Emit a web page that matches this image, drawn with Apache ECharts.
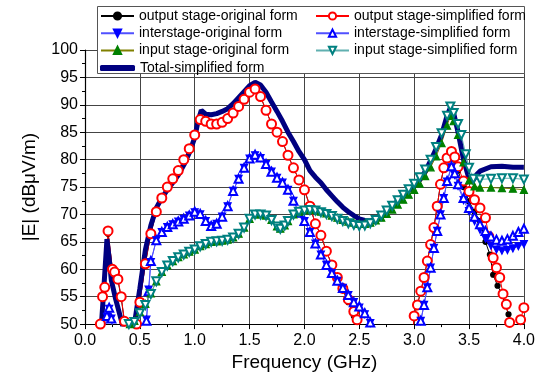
<!DOCTYPE html>
<html>
<head>
<meta charset="utf-8">
<script src="https://cdn.jsdelivr.net/npm/echarts@6/dist/echarts.min.js"></script>
<style>
  html, body { margin: 0; padding: 0; background: #fff; }
  #chart { width: 538px; height: 377px; }
</style>
</head>
<body>
<div id="chart"></div>
<script>
// [GHz, dBuV/m]
const outputOriginal = [
  [0.12, 46], [0.14, 50], [0.16, 55], [0.18, 56.5], [0.21, 66.5], [0.25, 60], [0.27, 59.3], [0.3, 58],
  [0.33, 54.8], [0.36, 50.3], [0.38, 46], [0.44, 46], [0.47, 50], [0.5, 54], [0.55, 61], [0.6, 66.5],
  [0.65, 70.5], [0.7, 73], [0.75, 75], [0.8, 76.5], [0.85, 78], [0.9, 80], [0.95, 82], [1.0, 84.5],
  [1.05, 87.3], [1.1, 87], [1.15, 86.5], [1.2, 86.5], [1.25, 86.8], [1.3, 87.5], [1.35, 88.5], [1.4, 89.7],
  [1.45, 91], [1.5, 92.3], [1.55, 92.9], [1.6, 91.5], [1.65, 89], [1.7, 86.5], [1.75, 85], [1.8, 83.3],
  [1.85, 80.8], [1.9, 78.5], [1.95, 76.3], [2.0, 74.5], [2.05, 71.5], [2.1, 68.3], [2.15, 66.2], [2.2, 63.3],
  [2.25, 60.8], [2.3, 58.3], [2.35, 56.2], [2.4, 54], [2.45, 51.5], [2.48, 49.5], [2.55, 45], [2.9, 45],
  [2.99, 49], [3.0, 51.5], [3.03, 53.5], [3.06, 56], [3.09, 58.5], [3.12, 61.5], [3.15, 64.5], [3.18, 67.6],
  [3.21, 71.5], [3.24, 75.5], [3.27, 78.5], [3.3, 80.3], [3.34, 81.3], [3.37, 80], [3.4, 78], [3.45, 75],
  [3.5, 72.4], [3.55, 70.5], [3.6, 68.8], [3.65, 65], [3.69, 62.7], [3.72, 59], [3.76, 57], [3.8, 55.5],
  [3.83, 53.5], [3.86, 51.8], [3.88, 50.2], [3.92, 47]
];
const outputSimplified = [
  [0.12, 46], [0.14, 50], [0.16, 55], [0.18, 56.7], [0.21, 67], [0.25, 60], [0.27, 59.5], [0.3, 58.2],
  [0.33, 55], [0.36, 50.5], [0.38, 46], [0.44, 46], [0.47, 50], [0.5, 54], [0.55, 61], [0.6, 66.5],
  [0.65, 70.5], [0.7, 73], [0.75, 75], [0.8, 76.5], [0.85, 78], [0.9, 80], [0.95, 82], [1.0, 84.5],
  [1.05, 87.3], [1.1, 87], [1.15, 86.5], [1.2, 86.5], [1.25, 86.8], [1.3, 87.5], [1.35, 88.5], [1.4, 89.7],
  [1.45, 91], [1.5, 92.3], [1.55, 92.9], [1.6, 91.5], [1.65, 89], [1.7, 86.5], [1.75, 85], [1.8, 83.3],
  [1.85, 80.8], [1.9, 78.5], [1.95, 76.3], [2.0, 74.5], [2.05, 71.5], [2.1, 68.3], [2.15, 66.2], [2.2, 63.3],
  [2.25, 60.8], [2.3, 58.5], [2.35, 56.5], [2.4, 54.5], [2.45, 52.3], [2.48, 50.8], [2.52, 49], [2.6, 45],
  [2.9, 45], [2.99, 49], [3.0, 51.5], [3.03, 53.5], [3.06, 56], [3.09, 58.5], [3.12, 61.5], [3.15, 64.5],
  [3.18, 67.6], [3.21, 71.5], [3.24, 75.5], [3.27, 78.5], [3.3, 80.3], [3.34, 81.5], [3.37, 80.5], [3.4, 78.7],
  [3.45, 76.1], [3.5, 74.2], [3.55, 72.7], [3.6, 71.2], [3.65, 69.4], [3.68, 66], [3.72, 62.1], [3.75, 60.3],
  [3.78, 58.5], [3.81, 55.5], [3.84, 53.6], [3.87, 50.3], [3.9, 48], [3.94, 48.5], [3.97, 50.8], [4.0, 53]
];
const interOriginal = [
  [0.17, 48], [0.2, 51.3], [0.22, 52.8], [0.24, 51], [0.26, 48], [0.53, 48], [0.56, 50.8], [0.58, 56.3],
  [0.6, 61.3], [0.65, 65.3], [0.7, 66.8], [0.75, 67.7], [0.8, 68.2], [0.85, 68.7], [0.9, 69.2], [0.95, 69.8],
  [1.0, 70.4], [1.05, 70], [1.1, 68.8], [1.15, 67.9], [1.2, 68.3], [1.25, 69.6], [1.3, 71.5], [1.35, 74.3],
  [1.4, 76.5], [1.45, 78.5], [1.5, 80.2], [1.55, 80.8], [1.6, 80.3], [1.65, 79.2], [1.7, 77.8], [1.75, 76.7],
  [1.8, 75.8], [1.85, 74.5], [1.9, 72.5], [1.95, 70.3], [2.0, 68.8], [2.05, 66.8], [2.1, 64.7], [2.15, 62.7],
  [2.2, 60.8], [2.25, 59.3], [2.3, 57.9], [2.35, 56.6], [2.4, 55.3], [2.45, 54], [2.5, 53], [2.55, 51.8],
  [2.6, 50.2], [2.63, 49], [2.7, 45], [2.95, 45], [3.05, 49], [3.06, 50.6], [3.09, 53.5], [3.12, 56.7],
  [3.15, 60.3], [3.18, 63.9], [3.21, 67], [3.24, 70], [3.27, 73], [3.3, 76], [3.34, 78.6], [3.37, 77.2],
  [3.4, 75.2], [3.45, 72.6], [3.5, 70.6], [3.55, 68.8], [3.6, 67.2], [3.65, 65.6], [3.7, 64.3], [3.75, 63.6],
  [3.8, 63.4], [3.85, 63.5], [3.9, 63.8], [3.95, 64.2], [4.0, 64.6]
];
const interSimplified = [
  [0.17, 48], [0.2, 51.5], [0.22, 53], [0.24, 51], [0.26, 48], [0.53, 48], [0.56, 50.6], [0.58, 56],
  [0.6, 61.5], [0.65, 65.3], [0.7, 66.8], [0.75, 67.7], [0.8, 68.2], [0.85, 68.7], [0.9, 69.2], [0.95, 69.8],
  [1.0, 70.5], [1.05, 70.1], [1.1, 68.8], [1.15, 67.9], [1.2, 68.3], [1.25, 69.6], [1.3, 71.5], [1.35, 74.3],
  [1.4, 76.5], [1.45, 78.5], [1.5, 80.2], [1.55, 80.9], [1.6, 80.4], [1.65, 79.2], [1.7, 77.8], [1.75, 76.7],
  [1.8, 75.8], [1.85, 74.5], [1.9, 72.5], [1.95, 70.3], [2.0, 68.8], [2.05, 66.8], [2.1, 64.7], [2.15, 62.7],
  [2.2, 60.8], [2.25, 59.3], [2.3, 57.9], [2.35, 56.6], [2.4, 55.3], [2.45, 54], [2.5, 53.2], [2.55, 52],
  [2.6, 50.3], [2.63, 49], [2.7, 45], [2.95, 45], [3.05, 49], [3.06, 50.6], [3.09, 53.5], [3.12, 56.7],
  [3.15, 60.3], [3.18, 63.9], [3.21, 67], [3.24, 70], [3.27, 73], [3.3, 76.1], [3.34, 78.8], [3.37, 77.5],
  [3.4, 75.5], [3.45, 73], [3.5, 71.2], [3.55, 69.6], [3.6, 68.2], [3.65, 67], [3.7, 66], [3.75, 65.4],
  [3.8, 65.2], [3.85, 65.5], [3.9, 66.1], [3.95, 66.8], [4.0, 67.4]
];
const inputOriginal = [
  [0.38, 46], [0.41, 50], [0.45, 50.6], [0.5, 52.2], [0.55, 53.7], [0.6, 55.6], [0.65, 57.8], [0.7, 59.5],
  [0.75, 60.7], [0.8, 61.5], [0.85, 62.2], [0.9, 62.7], [0.95, 63.2], [1.0, 63.6], [1.05, 64.2], [1.1, 64.6],
  [1.15, 65], [1.2, 65.1], [1.25, 65.2], [1.3, 65.4], [1.35, 65.8], [1.4, 66.5], [1.45, 67.6], [1.5, 69.2],
  [1.55, 70], [1.6, 70], [1.65, 69.8], [1.7, 69], [1.75, 67.8], [1.78, 67.4], [1.82, 68], [1.85, 68.8],
  [1.9, 70], [1.95, 70.5], [2.0, 70.8], [2.05, 70.9], [2.1, 70.8], [2.15, 70.5], [2.2, 70.2], [2.25, 69.8],
  [2.3, 69.4], [2.35, 69], [2.4, 68.7], [2.45, 68.5], [2.5, 68.3], [2.55, 68.3], [2.6, 68.5], [2.65, 68.9],
  [2.7, 69.4], [2.75, 70.1], [2.8, 70.9], [2.85, 71.8], [2.9, 72.7], [2.95, 73.6], [3.0, 74.5], [3.05, 75.6],
  [3.1, 77], [3.15, 78.6], [3.2, 80.6], [3.25, 83], [3.3, 86.2], [3.33, 88], [3.36, 87], [3.4, 84.5],
  [3.45, 79.5], [3.5, 76.2], [3.55, 75.1], [3.6, 74.9], [3.7, 74.9], [3.8, 74.8], [3.9, 74.7], [4.0, 74.5]
];
const inputSimplified = [
  [0.38, 46], [0.4, 50], [0.45, 50.4], [0.5, 52], [0.55, 53.5], [0.6, 55.5], [0.65, 57.8], [0.7, 59.5],
  [0.75, 60.7], [0.8, 61.5], [0.85, 62.2], [0.9, 62.7], [0.95, 63.2], [1.0, 63.6], [1.05, 64.2], [1.1, 64.6],
  [1.15, 65], [1.2, 65.1], [1.25, 65.2], [1.3, 65.4], [1.35, 65.8], [1.4, 66.5], [1.45, 67.6], [1.5, 69.2],
  [1.55, 70], [1.6, 70], [1.65, 69.8], [1.7, 69], [1.75, 67.8], [1.78, 67.4], [1.82, 68], [1.85, 68.8],
  [1.9, 70], [1.95, 70.5], [2.0, 70.7], [2.05, 70.8], [2.1, 70.7], [2.15, 70.4], [2.2, 70.1], [2.25, 69.7],
  [2.3, 69.2], [2.35, 68.8], [2.4, 68.4], [2.45, 68.1], [2.5, 67.9], [2.55, 68], [2.6, 68.4], [2.65, 69],
  [2.7, 69.8], [2.75, 70.7], [2.8, 71.6], [2.85, 72.6], [2.9, 73.6], [2.95, 74.6], [3.0, 75.6], [3.05, 76.8],
  [3.1, 78.2], [3.15, 80], [3.2, 82.3], [3.25, 84.8], [3.3, 88], [3.33, 89.7], [3.36, 88.5], [3.4, 86.5],
  [3.43, 84.5], [3.47, 81], [3.5, 78.5], [3.54, 76.5], [3.6, 76.4], [3.7, 76.5], [3.8, 76.6], [3.9, 76.6],
  [4.0, 76.4]
];
const totalSimplified = [
  [0.1, 44], [0.15, 50], [0.17, 56], [0.2, 65.5], [0.22, 62], [0.24, 58], [0.28, 54.5], [0.34, 50],
  [0.38, 46], [0.42, 46], [0.45, 50], [0.5, 56.5], [0.55, 63.5], [0.6, 68], [0.65, 71.2], [0.7, 73],
  [0.75, 74.5], [0.8, 75.8], [0.85, 77.2], [0.9, 79], [0.95, 81.2], [1.0, 84], [1.03, 87], [1.06, 89],
  [1.1, 88.3], [1.15, 88.2], [1.2, 88.4], [1.25, 88.8], [1.3, 89.3], [1.35, 90.2], [1.4, 91.3], [1.45, 92.4],
  [1.5, 93.5], [1.55, 94.1], [1.6, 93.6], [1.65, 92.3], [1.7, 90.5], [1.75, 88.8], [1.8, 87], [1.85, 85],
  [1.9, 83.3], [1.95, 81.5], [2.0, 80], [2.05, 78], [2.1, 76.8], [2.15, 75.8], [2.2, 74.5], [2.25, 73.4],
  [2.3, 72.3], [2.35, 71.3], [2.4, 70.5], [2.45, 69.8], [2.5, 69.2], [2.55, 68.9], [2.6, 68.8], [2.65, 69.2],
  [2.7, 69.8], [2.75, 70.6], [2.8, 71.5], [2.85, 72.5], [2.9, 73.5], [2.95, 74.4], [3.0, 75.2], [3.05, 76.3],
  [3.1, 77.8], [3.15, 79.8], [3.2, 82], [3.25, 84.5], [3.3, 88], [3.33, 89.5], [3.36, 88.5], [3.4, 85],
  [3.45, 80], [3.5, 76.5], [3.53, 76], [3.57, 77.3], [3.6, 77.9], [3.7, 78.7], [3.8, 78.8], [3.9, 78.6],
  [4.0, 78.6]
];

const seriesNames = [
  'output stage-original form', 'output stage-simplified form',
  'interstage-original form', 'interstage-simplified form',
  'input stage-original form', 'input stage-simplified form',
  'Total-simplified form'
];

const FONT = 'Liberation Sans, Arial, sans-serif';

function mk(name, data, lineColor, symColor, symbol, size, rotate) {
  return {
    name: name,
    type: 'line',
    data: data,
    symbol: symbol,
    symbolSize: size,
    symbolRotate: rotate || 0,
    showSymbol: true,
    clip: true,
    lineStyle: {color: lineColor, width: 1},
    itemStyle: {color: symColor, borderColor: symColor, borderWidth: 1.2},
    animation: false,
  };
}

const legendText = {fontSize: 14, color: '#000', lineHeight: 14, fontFamily: FONT};

const myChart = echarts.init(document.getElementById('chart'));
const option = {
  animation: false,
  textStyle: {fontFamily: FONT},
  grid: {left: 85, right: 13, top: 50, bottom: 52},
  xAxis: {
    type: 'value', min: 0, max: 4, interval: 0.5,
    name: 'Frequency (GHz)', nameLocation: 'middle', nameGap: 19,
    nameTextStyle: {fontSize: 19, color: '#000', fontFamily: FONT},
    axisLine: {lineStyle: {color: '#000', width: 1.2}},
    axisTick: {length: 5, lineStyle: {color: '#000'}},
    minorTick: {show: true, splitNumber: 2, length: 3, lineStyle: {color: '#000'}},
    axisLabel: {fontSize: 16, color: '#000', margin: 8, formatter: v => v.toFixed(1)},
    splitLine: {show: true, lineStyle: {color: '#444', width: 1}},
  },
  yAxis: {
    type: 'value', min: 50, max: 100, interval: 5,
    name: '|E| (dBμV/m)', nameLocation: 'middle', nameGap: 46,
    nameTextStyle: {fontSize: 19, color: '#000', fontFamily: FONT},
    axisLine: {show: true, lineStyle: {color: '#000', width: 1.2}},
    axisTick: {show: true, length: 5, lineStyle: {color: '#000'}},
    minorTick: {show: true, splitNumber: 2, length: 3, lineStyle: {color: '#000'}},
    axisLabel: {fontSize: 16, color: '#000', margin: 7},
    splitLine: {show: true, lineStyle: {color: '#444', width: 1}},
  },
  graphic: [{
    type: 'rect', z: 3,
    shape: {x: 97.5, y: 6.5, width: 427, height: 67},
    style: {fill: '#fff', stroke: '#555', lineWidth: 1}
  }],
  legend: [{
    orient: 'vertical', left: 95, top: 4, z: 5,
    itemWidth: 33, itemHeight: 9, itemGap: 3.2,
    textStyle: legendText,
    data: [seriesNames[0], seriesNames[2], seriesNames[4]]
  }, {
    orient: 'vertical', left: 310, top: 4, z: 5,
    itemWidth: 33, itemHeight: 9, itemGap: 3.2,
    textStyle: legendText,
    data: [seriesNames[1], seriesNames[3], seriesNames[5]]
  }, {
    orient: 'vertical', left: 95, top: 56, z: 5,
    itemWidth: 35, itemHeight: 6, itemGap: 3,
    textStyle: legendText,
    data: [{name: seriesNames[6], icon: 'roundRect'}]
  }],
  series: [
    mk(seriesNames[0], outputOriginal, '#000', '#000', 'circle', 5),
    mk(seriesNames[1], outputSimplified, '#ff0000', '#ff0000', 'emptyCircle', 9),
    mk(seriesNames[2], interOriginal, '#5050ff', '#0000ff', 'triangle', 7, 180),
    mk(seriesNames[3], interSimplified, '#5050ff', '#0000ff', 'emptyTriangle', 8),
    mk(seriesNames[4], inputOriginal, '#808000', '#008000', 'triangle', 7),
    mk(seriesNames[5], inputSimplified, '#60b0b0', '#008080', 'emptyTriangle', 8, 180),
    {
      name: seriesNames[6], type: 'line', data: totalSimplified,
      symbol: 'none', clip: true, animation: false,
      lineStyle: {color: '#000080', width: 5},
      itemStyle: {color: '#000080'}
    }
  ]
};
myChart.setOption(option);
</script>
</body>
</html>
